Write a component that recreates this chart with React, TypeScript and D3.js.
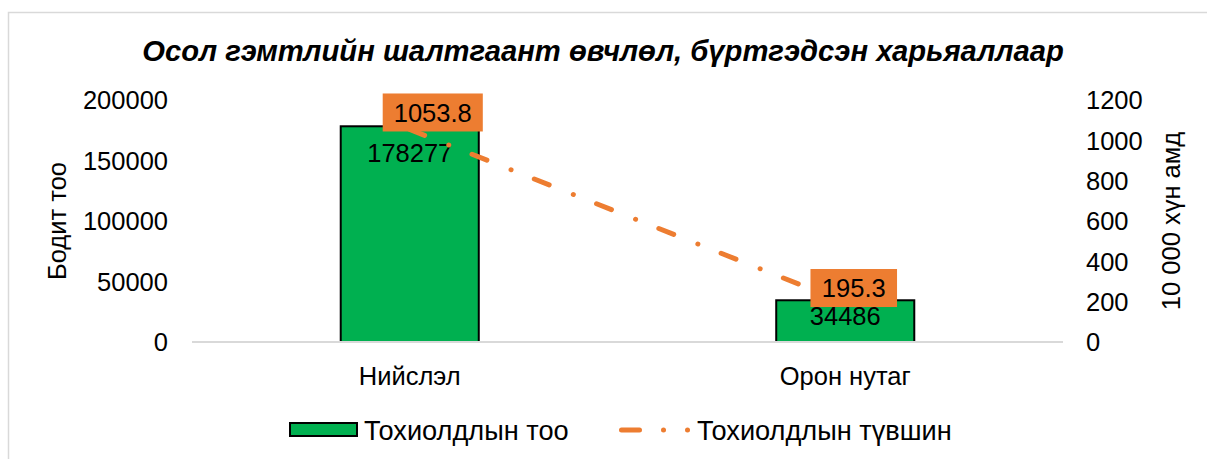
import * as d3 from 'd3';

const categories = ['Нийслэл', 'Орон нутаг'];
const caseCounts = [178277, 34486];
const caseRates = [1053.8, 195.3];
const countTicks = [0, 50000, 100000, 150000, 200000];
const rateTicks = [0, 200, 400, 600, 800, 1000, 1200];

const title = 'Осол гэмтлийн шалтгаант өвчлөл, бүртгэдсэн харьяаллаар';
const leftTitle = 'Бодит тоо';
const rightTitle = '10 000 хүн амд';
const legendLabels = ['Тохиолдлын тоо', 'Тохиолдлын түвшин'];

const W = 1207;
const H = 459;
const FONT = "'Liberation Sans', Arial, sans-serif";
const GREEN = '#00B050';
const ORANGE = '#ED7D31';

// label nudges (Excel places these itself)
const countLabelDy = [27, 16];
const rateLabelShift: [number, number][] = [
  [23, -17],
  [8.5, -14.6],
];

export default function App() {
  const plot = { left: 192, right: 1063, top: 100, bottom: 342 };

  const x = d3.scaleBand<string>().domain(categories).range([plot.left, plot.right]).padding(0);
  const yCount = d3.scaleLinear().domain([0, 200000]).range([plot.bottom, plot.top]);
  const yRate = d3.scaleLinear().domain([0, 1200]).range([plot.bottom, plot.top]);

  const barW = x.bandwidth() * 0.317;
  const cx = (c: string) => (x(c) ?? 0) + x.bandwidth() / 2;

  const line = d3
    .line<number>()
    .x((_, i) => cx(categories[i]))
    .y((d) => yRate(d));

  const fmtRate = d3.format('.1f');
  const fontSize = 25.5;
  const legendSize = 27.2;

  return (
    <div style={{ position: 'fixed', left: 0, top: 0 }}>
      <svg width={W} height={H} style={{ display: 'block', fontFamily: FONT }}>
        <rect x={0} y={0} width={W} height={H} fill="#fff" />
        <rect x={8.5} y={12.5} width={W + 20} height={H + 20} fill="none" stroke="#d9d9d9" strokeWidth={1.5} />

        <text
          x={603}
          y={60.5}
          textAnchor="middle"
          fontSize={29.2}
          fontWeight="bold"
          fontStyle="italic"
          fill="#000"
        >
          {title}
        </text>

        {/* left axis */}
        {countTicks.map((t) => (
          <text key={t} x={168} y={yCount(t)} dy="0.36em" textAnchor="end" fontSize={fontSize} fill="#000">
            {t}
          </text>
        ))}
        <text
          transform={`translate(${66},${(plot.top + plot.bottom) / 2}) rotate(-90)`}
          textAnchor="middle"
          fontSize={fontSize}
          fill="#000"
        >
          {leftTitle}
        </text>

        {/* right axis */}
        {rateTicks.map((t) => (
          <text key={t} x={1086} y={yRate(t)} dy="0.36em" textAnchor="start" fontSize={fontSize} fill="#000">
            {t}
          </text>
        ))}
        <text
          transform={`translate(${1180},${(plot.top + plot.bottom) / 2}) rotate(-90)`}
          textAnchor="middle"
          fontSize={fontSize}
          fill="#000"
        >
          {rightTitle}
        </text>

        {/* bars */}
        {categories.map((c, i) => (
          <rect
            key={c}
            x={cx(c) - barW / 2}
            y={yCount(caseCounts[i])}
            width={barW}
            height={plot.bottom - yCount(caseCounts[i])}
            fill={GREEN}
            stroke="#000"
            strokeWidth={2}
          />
        ))}

        <line x1={plot.left} x2={plot.right} y1={plot.bottom} y2={plot.bottom} stroke="#d9d9d9" strokeWidth={2} />

        {categories.map((c, i) => (
          <text
            key={c}
            x={cx(c)}
            y={yCount(caseCounts[i]) + countLabelDy[i]}
            dy="0.36em"
            textAnchor="middle"
            fontSize={fontSize}
            fill="#000"
          >
            {caseCounts[i]}
          </text>
        ))}

        {/* category labels */}
        {categories.map((c) => (
          <text key={c} x={cx(c)} y={376} dy="0.36em" textAnchor="middle" fontSize={fontSize} fill="#000">
            {c}
          </text>
        ))}

        {/* rate line */}
        <path
          d={line(caseRates) ?? ''}
          fill="none"
          stroke={ORANGE}
          strokeWidth={5}
          strokeLinecap="round"
          strokeDasharray="16 26 0.01 25"
        />

        {categories.map((c, i) => {
          const txt = fmtRate(caseRates[i]);
          const tw = txt.length * fontSize * 0.53;
          const bw = tw + 19;
          const lx = cx(c) + rateLabelShift[i][0];
          const ly = yRate(caseRates[i]) + rateLabelShift[i][1];
          return (
            <g key={c}>
              <rect x={lx - bw / 2} y={ly - 19} width={bw} height={38} fill={ORANGE} />
              <text x={lx} y={ly} dy="0.36em" textAnchor="middle" fontSize={fontSize} fill="#000">
                {txt}
              </text>
            </g>
          );
        })}

        {/* legend */}
        <rect x={290} y={423} width={67} height={13} fill={GREEN} stroke="#000" strokeWidth={2} />
        <text x={364} y={430} dy="0.36em" fontSize={legendSize} fill="#000">
          {legendLabels[0]}
        </text>
        <line
          x1={621.5}
          x2={688}
          y1={430}
          y2={430}
          stroke={ORANGE}
          strokeWidth={5}
          strokeLinecap="round"
          strokeDasharray="18 24 0.01 24 0.01 30"
        />
        <text x={697} y={430} dy="0.36em" fontSize={legendSize} fill="#000">
          {legendLabels[1]}
        </text>
      </svg>
    </div>
  );
}
